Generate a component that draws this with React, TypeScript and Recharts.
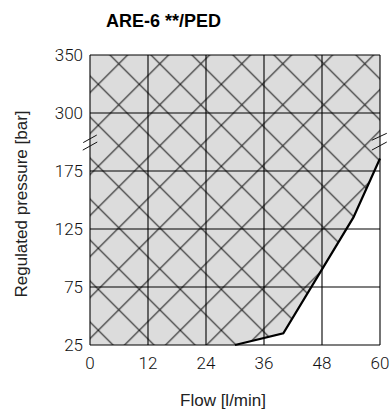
import React from "react";
import { ComposedChart, Area, Line, XAxis, YAxis, ReferenceLine } from "recharts";

// Tick labels
const xTicks = [0, 12, 24, 36, 48, 60];
const yTickLabels = [25, 75, 125, 175, 300, 350]; // broken axis: evenly spaced

// Lower boundary of the operating region (curve)
const curveFlow = [30, 40, 54.5, 60];
const curvePressure = [25, 35, 135, 202];

// The shaded region starts at flow 0 on the bottom edge
const regionStartFlow = 0;
const regionStartPressure = 25;

// Map pressure onto the broken axis (index between tick labels)
const toIdx = (p: number) => {
  for (let i = 0; i < yTickLabels.length - 1; i++) {
    const a = yTickLabels[i];
    const b = yTickLabels[i + 1];
    if (p <= b) return i + (p - a) / (b - a);
  }
  return yTickLabels.length - 1;
};
const topIdx = yTickLabels.length - 1;
const yIdxTicks = yTickLabels.map((_, i) => i);

const rows = [
  { flow: regionStartFlow, low: toIdx(regionStartPressure), curve: null as number | null },
  ...curveFlow.map((f, i) => ({ flow: f, low: toIdx(curvePressure[i]), curve: toIdx(curvePressure[i]) })),
];

// axis-break marks (in flow / axis-index units)
const breakMarks = [
  [[-1.4, 3.49], [1.4, 3.62]],
  [[-1.5, 3.36], [1.5, 3.5]],
  [[58.3, 3.53], [61.4, 3.65]],
  [[58.3, 3.36], [61.4, 3.5]],
];

const tickFont = { fontFamily: "Roboto", fontWeight: 300, fontSize: 17, fill: "#111" };

export default function App() {
  return (
    <div style={{ position: "relative", width: 390, height: 417 }}>
      <style>{"html,body{margin:0;padding:0;overflow:hidden;}"}</style>
      <ComposedChart
        width={390}
        height={417}
        data={rows}
        margin={{ top: 55, right: 10, left: 30, bottom: 42 }}
      >
        <defs>
          <pattern id="hatch" patternUnits="userSpaceOnUse" x={16.3} y={2.3} width={41} height={41}>
            <rect x={0} y={0} width={41} height={41} fill="#dcdcdc" />
            <path d="M0,0 L41,41 M41,0 L0,41" stroke="#1e1e1e" strokeWidth={1.1} />
          </pattern>
        </defs>
        <XAxis
          dataKey="flow"
          type="number"
          domain={[0, 60]}
          ticks={xTicks}
          tickLine={false}
          axisLine={false}
          tickSize={0}
          tickMargin={12}
          tick={tickFont}
          height={30}
          interval={0}
        />
        <YAxis
          type="number"
          domain={[0, topIdx]}
          ticks={yIdxTicks}
          tickFormatter={(v: number) => String(yTickLabels[v])}
          tickLine={false}
          axisLine={false}
          tickSize={0}
          tickMargin={7}
          tick={tickFont}
          width={60}
          interval={0}
        />
        <Area
          type="linear"
          dataKey={(d: any) => [d.low, topIdx]}
          stroke="none"
          fill="url(#hatch)"
          fillOpacity={1}
          isAnimationActive={false}
          activeDot={false}
          dot={false}
        />
        {xTicks.map((t) => (
          <ReferenceLine key={"x" + t} x={t} stroke="#000" strokeWidth={1.1} />
        ))}
        {yIdxTicks.map((t) => (
          <ReferenceLine key={"y" + t} y={t} stroke="#000" strokeWidth={1.1} />
        ))}
        <Line
          type="linear"
          dataKey="curve"
          stroke="#000"
          strokeWidth={2.2}
          dot={false}
          activeDot={false}
          isAnimationActive={false}
          connectNulls={false}
        />
        {breakMarks.map((m, i) => (
          <ReferenceLine
            key={"b" + i}
            segment={[{ x: m[0][0], y: m[0][1] }, { x: m[1][0], y: m[1][1] }]}
            stroke="#111"
            strokeWidth={1}
            ifOverflow="visible"
          />
        ))}
      </ComposedChart>
      <div
        style={{
          position: "absolute",
          left: 163.5,
          top: 21,
          transform: "translate(-50%, -50%)",
          fontFamily: "'Liberation Sans', Arial, sans-serif",
          fontWeight: 700,
          fontSize: 18,
          whiteSpace: "nowrap",
          color: "#000",
        }}
      >
        ARE-6 **/PED
      </div>
      <div
        style={{
          position: "absolute",
          left: 223,
          top: 401,
          transform: "translate(-50%, -50%)",
          fontFamily: "'Liberation Sans', Arial, sans-serif",
          fontSize: 17,
          whiteSpace: "nowrap",
          color: "#222",
        }}
      >
        Flow [l/min]
      </div>
      <div
        style={{
          position: "absolute",
          left: 22,
          top: 204,
          transform: "translate(-50%, -50%) rotate(-90deg)",
          fontFamily: "'Liberation Sans', Arial, sans-serif",
          fontSize: 17,
          whiteSpace: "nowrap",
          color: "#222",
        }}
      >
        Regulated pressure [bar]
      </div>
    </div>
  );
}
